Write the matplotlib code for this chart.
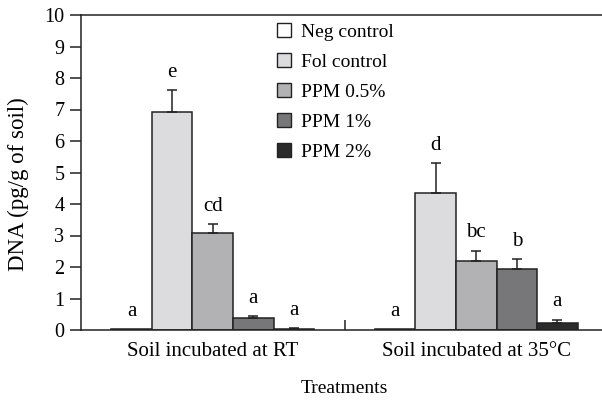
import matplotlib
matplotlib.use("Agg")
import matplotlib.pyplot as plt
from matplotlib.patches import Patch
import numpy as np

plt.rcParams['font.family'] = ['Liberation Serif', 'DejaVu Serif']

groups = ["Soil incubated at RT", "Soil incubated at 35\u00b0C"]
series = ["Neg control", "Fol control", "PPM 0.5%", "PPM 1%", "PPM 2%"]
colors = ["#ffffff", "#dcdcde", "#b2b2b4", "#77777a", "#2b2b2b"]

means = {
    "Neg control": [0.02, 0.02],
    "Fol control": [6.93, 4.36],
    "PPM 0.5%":    [3.08, 2.20],
    "PPM 1%":      [0.37, 1.94],
    "PPM 2%":      [0.03, 0.23],
}
errors = {
    "Neg control": [0.0, 0.0],
    "Fol control": [0.69, 0.93],
    "PPM 0.5%":    [0.28, 0.32],
    "PPM 1%":      [0.08, 0.30],
    "PPM 2%":      [0.02, 0.10],
}
letters = {
    "Neg control": ["a", "a"],
    "Fol control": ["e", "d"],
    "PPM 0.5%":    ["cd", "bc"],
    "PPM 1%":      ["a", "b"],
    "PPM 2%":      ["a", "a"],
}
yticks = [0, 1, 2, 3, 4, 5, 6, 7, 8, 9, 10]

W, H = 602, 401
fig = plt.figure(figsize=(W / 100, H / 100), dpi=100)
ax = fig.add_axes([81 / W, 1 - 330 / H, (608 - 81) / W, (330 - 15) / H])

x = np.arange(len(groups))
bw = 0.154
edge = "#222222"
for i, name in enumerate(series):
    xi = x + (i - 2) * bw
    ax.bar(xi, means[name], width=bw, color=colors[i], edgecolor=edge,
           linewidth=1.1, zorder=2, label=name)
    err = np.array(errors[name])
    show = err > 0
    ax.errorbar(xi[show], np.array(means[name])[show],
                yerr=[np.zeros(show.sum()), err[show]],
                fmt="none", ecolor=edge, elinewidth=1.1, capsize=3.8,
                capthick=1.1, zorder=3)
    for k in range(len(groups)):
        top = means[name][k] + errors[name][k]
        ax.text(xi[k], top + 0.42, letters[name][k], ha="center", va="baseline",
                fontsize=15)

ax.set_xlim(-0.5, 1.5)
ax.set_ylim(0, 10)
ax.set_yticks(yticks)
ax.set_yticklabels([str(v) for v in yticks])
ax.set_xticks(x)
ax.set_xticklabels(groups)
ax.set_xticks([0.5], minor=True)
ax.tick_params(axis="x", which="major", length=0, pad=9, labelsize=15)
ax.tick_params(axis="x", which="minor", direction="in", length=7, width=1.1,
               color=edge)
ax.tick_params(axis="y", direction="out", length=8, width=1.1, pad=4,
               labelsize=14.5, color=edge)
for s in ax.spines.values():
    s.set_linewidth(1.1)
    s.set_color(edge)

ax.set_ylabel("DNA (pg/g of soil)", fontsize=16.5)
ax.yaxis.label.set_va("center")
ax.yaxis.set_label_coords((18 - 81) / 527, (330 - 184) / 315)
ax.set_xlabel("Treatments", fontsize=14, labelpad=13)

handles = [Patch(facecolor=c, edgecolor=edge, linewidth=1.0) for c in colors]
ax.legend(handles, series, loc="upper left",
          bbox_to_anchor=(277 / W, 1 - 23 / H), bbox_transform=fig.transFigure,
          frameon=False, fontsize=14, handlelength=0.7, handleheight=0.7,
          handletextpad=0.55, labelspacing=0.64, borderpad=0, borderaxespad=0)

fig.savefig("out.png", dpi=100)
